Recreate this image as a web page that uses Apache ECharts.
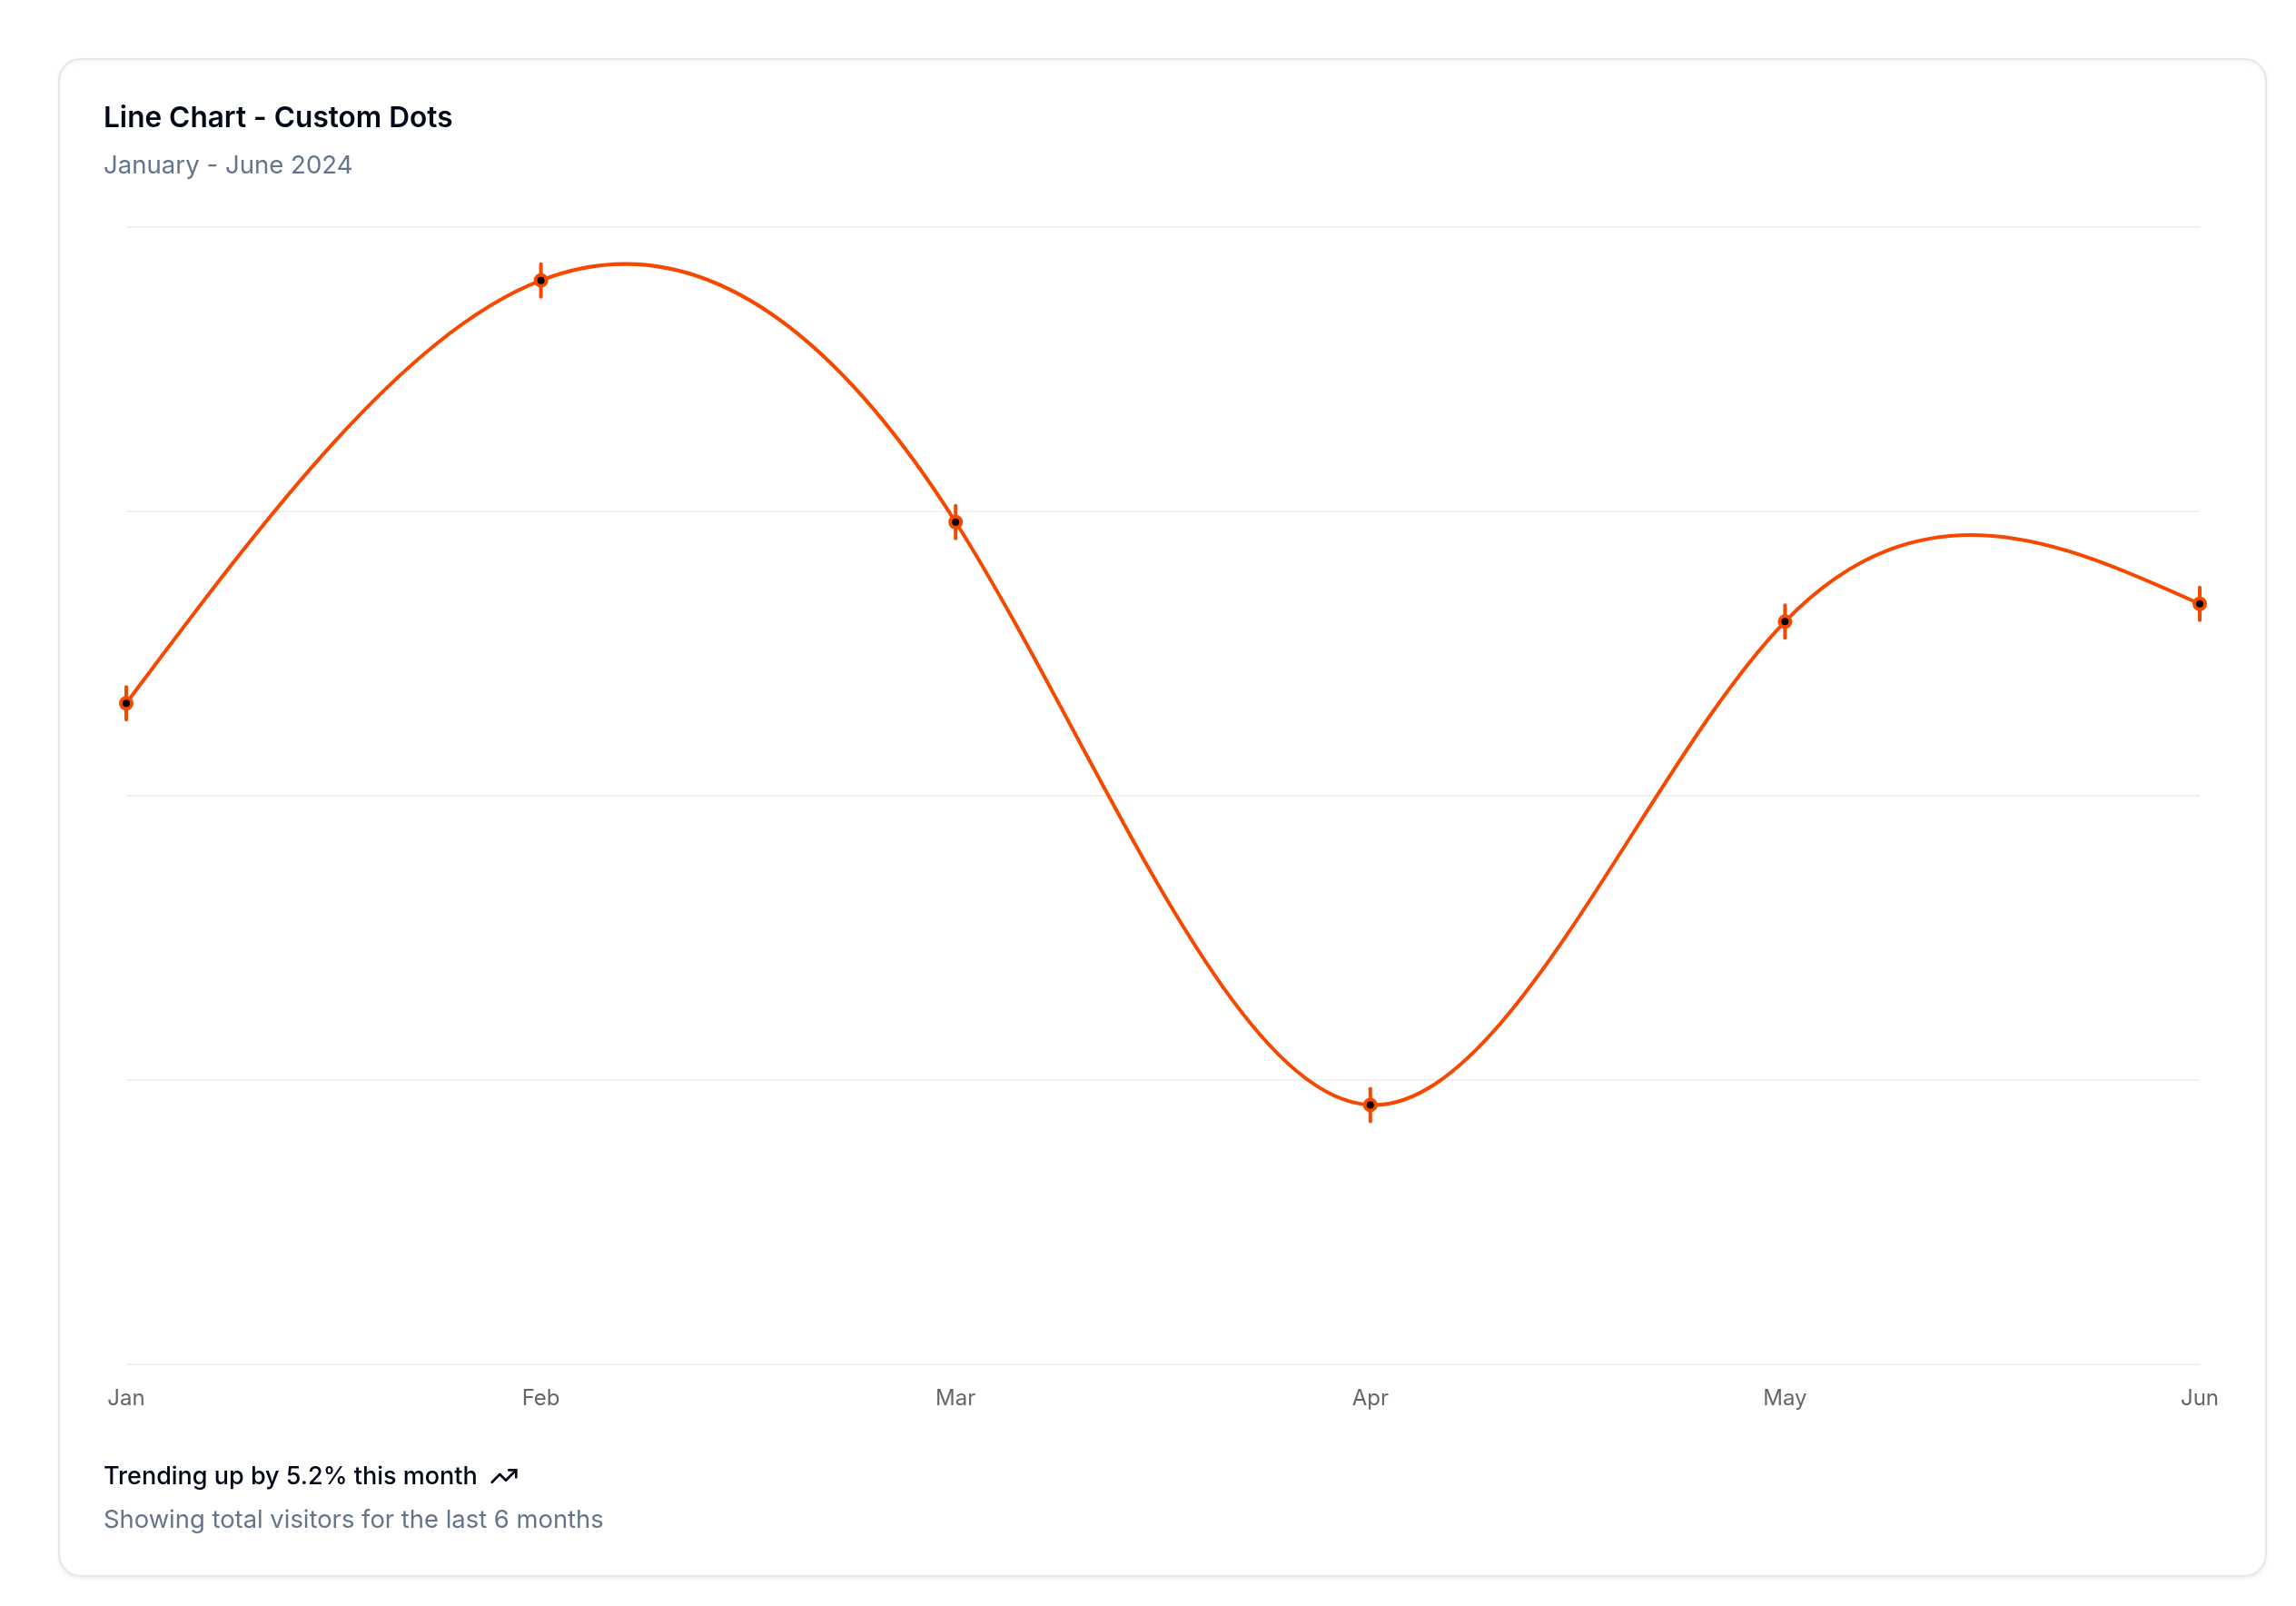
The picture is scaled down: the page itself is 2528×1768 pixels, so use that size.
<!DOCTYPE html>
<html>
<head>
<meta charset="utf-8">
<script src="https://cdn.jsdelivr.net/npm/echarts@6/dist/echarts.min.js"></script>
<style>
html,body{margin:0;padding:0;background:#fff;}
#chart{width:2528px;height:1768px;}
</style>
</head>
<body>
<div id="chart"></div>
<script>
var months = ['January', 'February', 'March', 'April', 'May', 'June'];
var desktop = [186, 305, 237, 73, 209, 214];
var yTicks = [0, 80, 160, 240, 320];

var titleText = 'Line Chart - Custom Dots';
var subtitleText = 'January - June 2024';
var footerMain = 'Trending up by 5.2% this month';
var footerSub = 'Showing total visitors for the last 6 months';

var LINE_COLOR = '#f54900';
var FONT = 'Inter, "Noto Sans", sans-serif';

function controlPoints(x) {
  var i, n = x.length - 1, m, a = new Array(n), b = new Array(n), r = new Array(n);
  a[0] = 0; b[0] = 2; r[0] = x[0] + 2 * x[1];
  for (i = 1; i < n - 1; ++i) { a[i] = 1; b[i] = 4; r[i] = 4 * x[i] + 2 * x[i + 1]; }
  a[n - 1] = 2; b[n - 1] = 7; r[n - 1] = 8 * x[n - 1] + x[n];
  for (i = 1; i < n; ++i) { m = a[i] / b[i - 1]; b[i] -= m; r[i] -= m * r[i - 1]; }
  a[n - 1] = r[n - 1] / b[n - 1];
  for (i = n - 2; i >= 0; --i) a[i] = (r[i] - a[i + 1]) / b[i];
  b[n - 1] = (x[n] + a[n - 1]) / 2;
  for (i = 0; i < n - 1; ++i) b[i] = 2 * x[i + 1] - a[i + 1];
  return [a, b];
}

function naturalPath(pts) {
  var xs = pts.map(function (p) { return p[0]; });
  var ys = pts.map(function (p) { return p[1]; });
  var px = controlPoints(xs), py = controlPoints(ys);
  var d = 'M' + xs[0] + ',' + ys[0];
  for (var i = 0; i < xs.length - 1; i++) {
    d += 'C' + px[0][i] + ',' + py[0][i] + ',' + px[1][i] + ',' + py[1][i] + ',' + xs[i + 1] + ',' + ys[i + 1];
  }
  return d;
}

var chart = echarts.init(document.getElementById('chart'), null, {renderer: 'canvas'});

var option = {
  backgroundColor: '#ffffff',
  animation: false,
  textStyle: {fontFamily: FONT},
  grid: {left: 139, right: 106, top: 250, bottom: 266, containLabel: false},
  xAxis: {
    type: 'category',
    data: months,
    boundaryGap: false,
    axisLine: {show: false},
    axisTick: {show: false},
    splitLine: {show: false},
    axisLabel: {
      formatter: function (v) { return v.slice(0, 3); },
      fontSize: 24,
      color: '#666666',
      margin: 26,
      fontFamily: FONT
    }
  },
  yAxis: {
    type: 'value',
    min: yTicks[0],
    max: yTicks[yTicks.length - 1],
    interval: yTicks[1] - yTicks[0],
    axisLabel: {show: false},
    axisLine: {show: false},
    axisTick: {show: false},
    splitLine: {show: true, lineStyle: {color: '#eef0f3', width: 2}}
  },
  graphic: [
    {
      type: 'rect', z: -10,
      shape: {x: 65, y: 65, width: 2430, height: 1670, r: 24},
      style: {fill: '#ffffff', stroke: '#e2e8f0', lineWidth: 2,
        shadowBlur: 4, shadowOffsetY: 2, shadowColor: 'rgba(0,0,0,0.06)'}
    },
    {
      type: 'text', left: 114, top: 129 - 15,
      style: {text: titleText, font: '600 31.6px ' + FONT, fill: '#020817'}
    },
    {
      type: 'text', left: 114, top: 182 - 13,
      style: {text: subtitleText, font: '400 27.6px ' + FONT, fill: '#64748b'}
    },
    {
      type: 'text', left: 114, top: 1625 - 13,
      style: {text: footerMain, font: '500 27px ' + FONT, fill: '#020817'}
    },
    {
      type: 'text', left: 114, top: 1673 - 13,
      style: {text: footerSub, font: '400 27.4px ' + FONT, fill: '#64748b'}
    },
    {
      type: 'group', x: 539, y: 1609,
      children: [
        {type: 'polyline', shape: {points: [[29.3, 9.3], [18, 20.7], [11.3, 14], [2.7, 22.7]]},
          style: {stroke: '#020817', lineWidth: 2.7, fill: null, lineCap: 'round', lineJoin: 'round'}},
        {type: 'polyline', shape: {points: [[21.3, 9.3], [29.3, 9.3], [29.3, 17.3]]},
          style: {stroke: '#020817', lineWidth: 2.7, fill: null, lineCap: 'round', lineJoin: 'round'}}
      ]
    }
  ],
  series: [
    {
      name: 'Desktop line',
      type: 'custom',
      coordinateSystem: 'cartesian2d',
      data: [[0, desktop[0]]],
      z: 2,
      renderItem: function (params, api) {
        var pts = desktop.map(function (v, i) { return api.coord([i, v]); });
        return {
          type: 'path',
          shape: {pathData: naturalPath(pts)},
          style: {fill: 'none', stroke: LINE_COLOR, lineWidth: 4, lineJoin: 'round', lineCap: 'round'}
        };
      }
    },
    {
      name: 'Desktop dots',
      type: 'custom',
      coordinateSystem: 'cartesian2d',
      data: desktop.map(function (v, i) { return [i, v]; }),
      z: 3,
      renderItem: function (params, api) {
        var p = api.coord([api.value(0), api.value(1)]);
        var cx = p[0], cy = p[1];
        var st = {stroke: LINE_COLOR, lineWidth: 4, lineCap: 'round'};
        return {
          type: 'group',
          children: [
            {type: 'line', shape: {x1: cx, y1: cy - 18, x2: cx, y2: cy - 6}, style: st},
            {type: 'line', shape: {x1: cx, y1: cy + 6, x2: cx, y2: cy + 18}, style: st},
            {type: 'circle', shape: {cx: cx, cy: cy, r: 6}, style: {fill: '#000000', stroke: LINE_COLOR, lineWidth: 4}}
          ]
        };
      }
    }
  ]
};

chart.setOption(option);
</script>
</body>
</html>
